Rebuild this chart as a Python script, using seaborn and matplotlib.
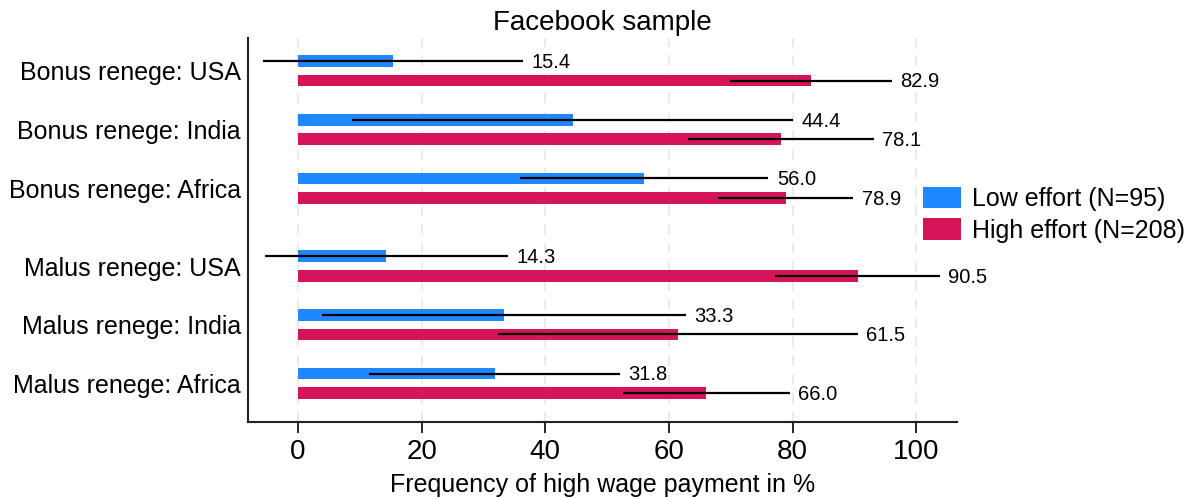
import numpy as np
import pandas as pd
import seaborn as sns
import matplotlib.pyplot as plt

sns.set_theme(style="white")
plt.rcParams['font.family'] = ['Liberation Sans', 'DejaVu Sans']
plt.rcParams['text.color'] = 'black'
plt.rcParams['axes.labelcolor'] = 'black'
plt.rcParams['xtick.color'] = 'black'
plt.rcParams['ytick.color'] = 'black'

# data
categories = ["Bonus renege: USA", "Bonus renege: India", "Bonus renege: Africa",
              "Malus renege: USA", "Malus renege: India", "Malus renege: Africa"]
positions = [0, 1, 2, 3.33, 4.33, 5.33]
low_mean = [15.4, 44.4, 56.0, 14.3, 33.3, 31.8]
low_ci = [21.0, 35.7, 20.1, 19.7, 29.4, 20.3]
high_mean = [82.9, 78.1, 78.9, 90.5, 61.5, 66.0]
high_ci = [13.1, 15.0, 10.9, 13.3, 29.1, 13.5]
groups = ["Low effort (N=95)", "High effort (N=208)"]
colors = ["#1F87FF", "#D5145A"]

df = pd.DataFrame({
    "pos": positions * 2,
    "value": low_mean + high_mean,
    "ci": low_ci + high_ci,
    "group": [groups[0]] * 6 + [groups[1]] * 6,
})

fig = plt.figure(figsize=(11.93, 4.98), dpi=100)
ax = fig.add_axes([0.2079, 0.1526, 0.5943, 0.7711])

# vertical dashed grid behind the bars
for t in range(0, 101, 20):
    ax.axvline(t, color="#ebebeb", lw=1.5, ls=(0, (5, 4)), zorder=0)

sns.barplot(data=df, x="value", y="pos", hue="group", hue_order=groups,
            orient="h", native_scale=True, palette=colors, saturation=1,
            width=0.664, gap=0.4, errorbar=None, ax=ax, zorder=2, linewidth=0)

# confidence intervals and value labels, placed on the bars seaborn drew
for cont, g in zip(ax.containers, groups):
    sub = df[df["group"] == g]
    ys = [p.get_y() + p.get_height() / 2 for p in cont.patches]
    ax.errorbar(sub["value"], ys, xerr=sub["ci"], fmt="none",
                ecolor="black", elinewidth=1.6, capsize=0, zorder=3)
    for v, c, y in zip(sub["value"], sub["ci"], ys):
        ax.annotate(f"{v:.1f}", (v + c, y), xytext=(6, -1),
                    textcoords="offset points", va="center", ha="left",
                    fontsize=14.5, color="black")

ax.set_xlim(-8.1, 106.6)
ax.set_ylim(5.99, -0.56)
ax.set_xticks(range(0, 101, 20))
ax.set_yticks(positions, categories)
ax.tick_params(axis="x", labelsize=20, length=8, width=1.2, color="black",
               pad=4, bottom=True)
ax.tick_params(axis="y", labelsize=18, length=0, pad=5)
ax.set_xlabel("Frequency of high wage payment in %", fontsize=18, labelpad=6)
ax.set_ylabel("")
ax.set_title("Facebook sample", fontsize=20, pad=6)

sns.despine(ax=ax)
for s in ["left", "bottom"]:
    ax.spines[s].set_color("#222222")
    ax.spines[s].set_linewidth(1.5)

ax.legend(loc="center left", bbox_to_anchor=(0.7737, 0.569),
          bbox_transform=fig.transFigure, frameon=False, fontsize=18,
          handlelength=1.5, handleheight=0.93, handletextpad=0.45,
          labelspacing=0.3, borderpad=0, borderaxespad=0)

fig.savefig("out.png", dpi=100)
